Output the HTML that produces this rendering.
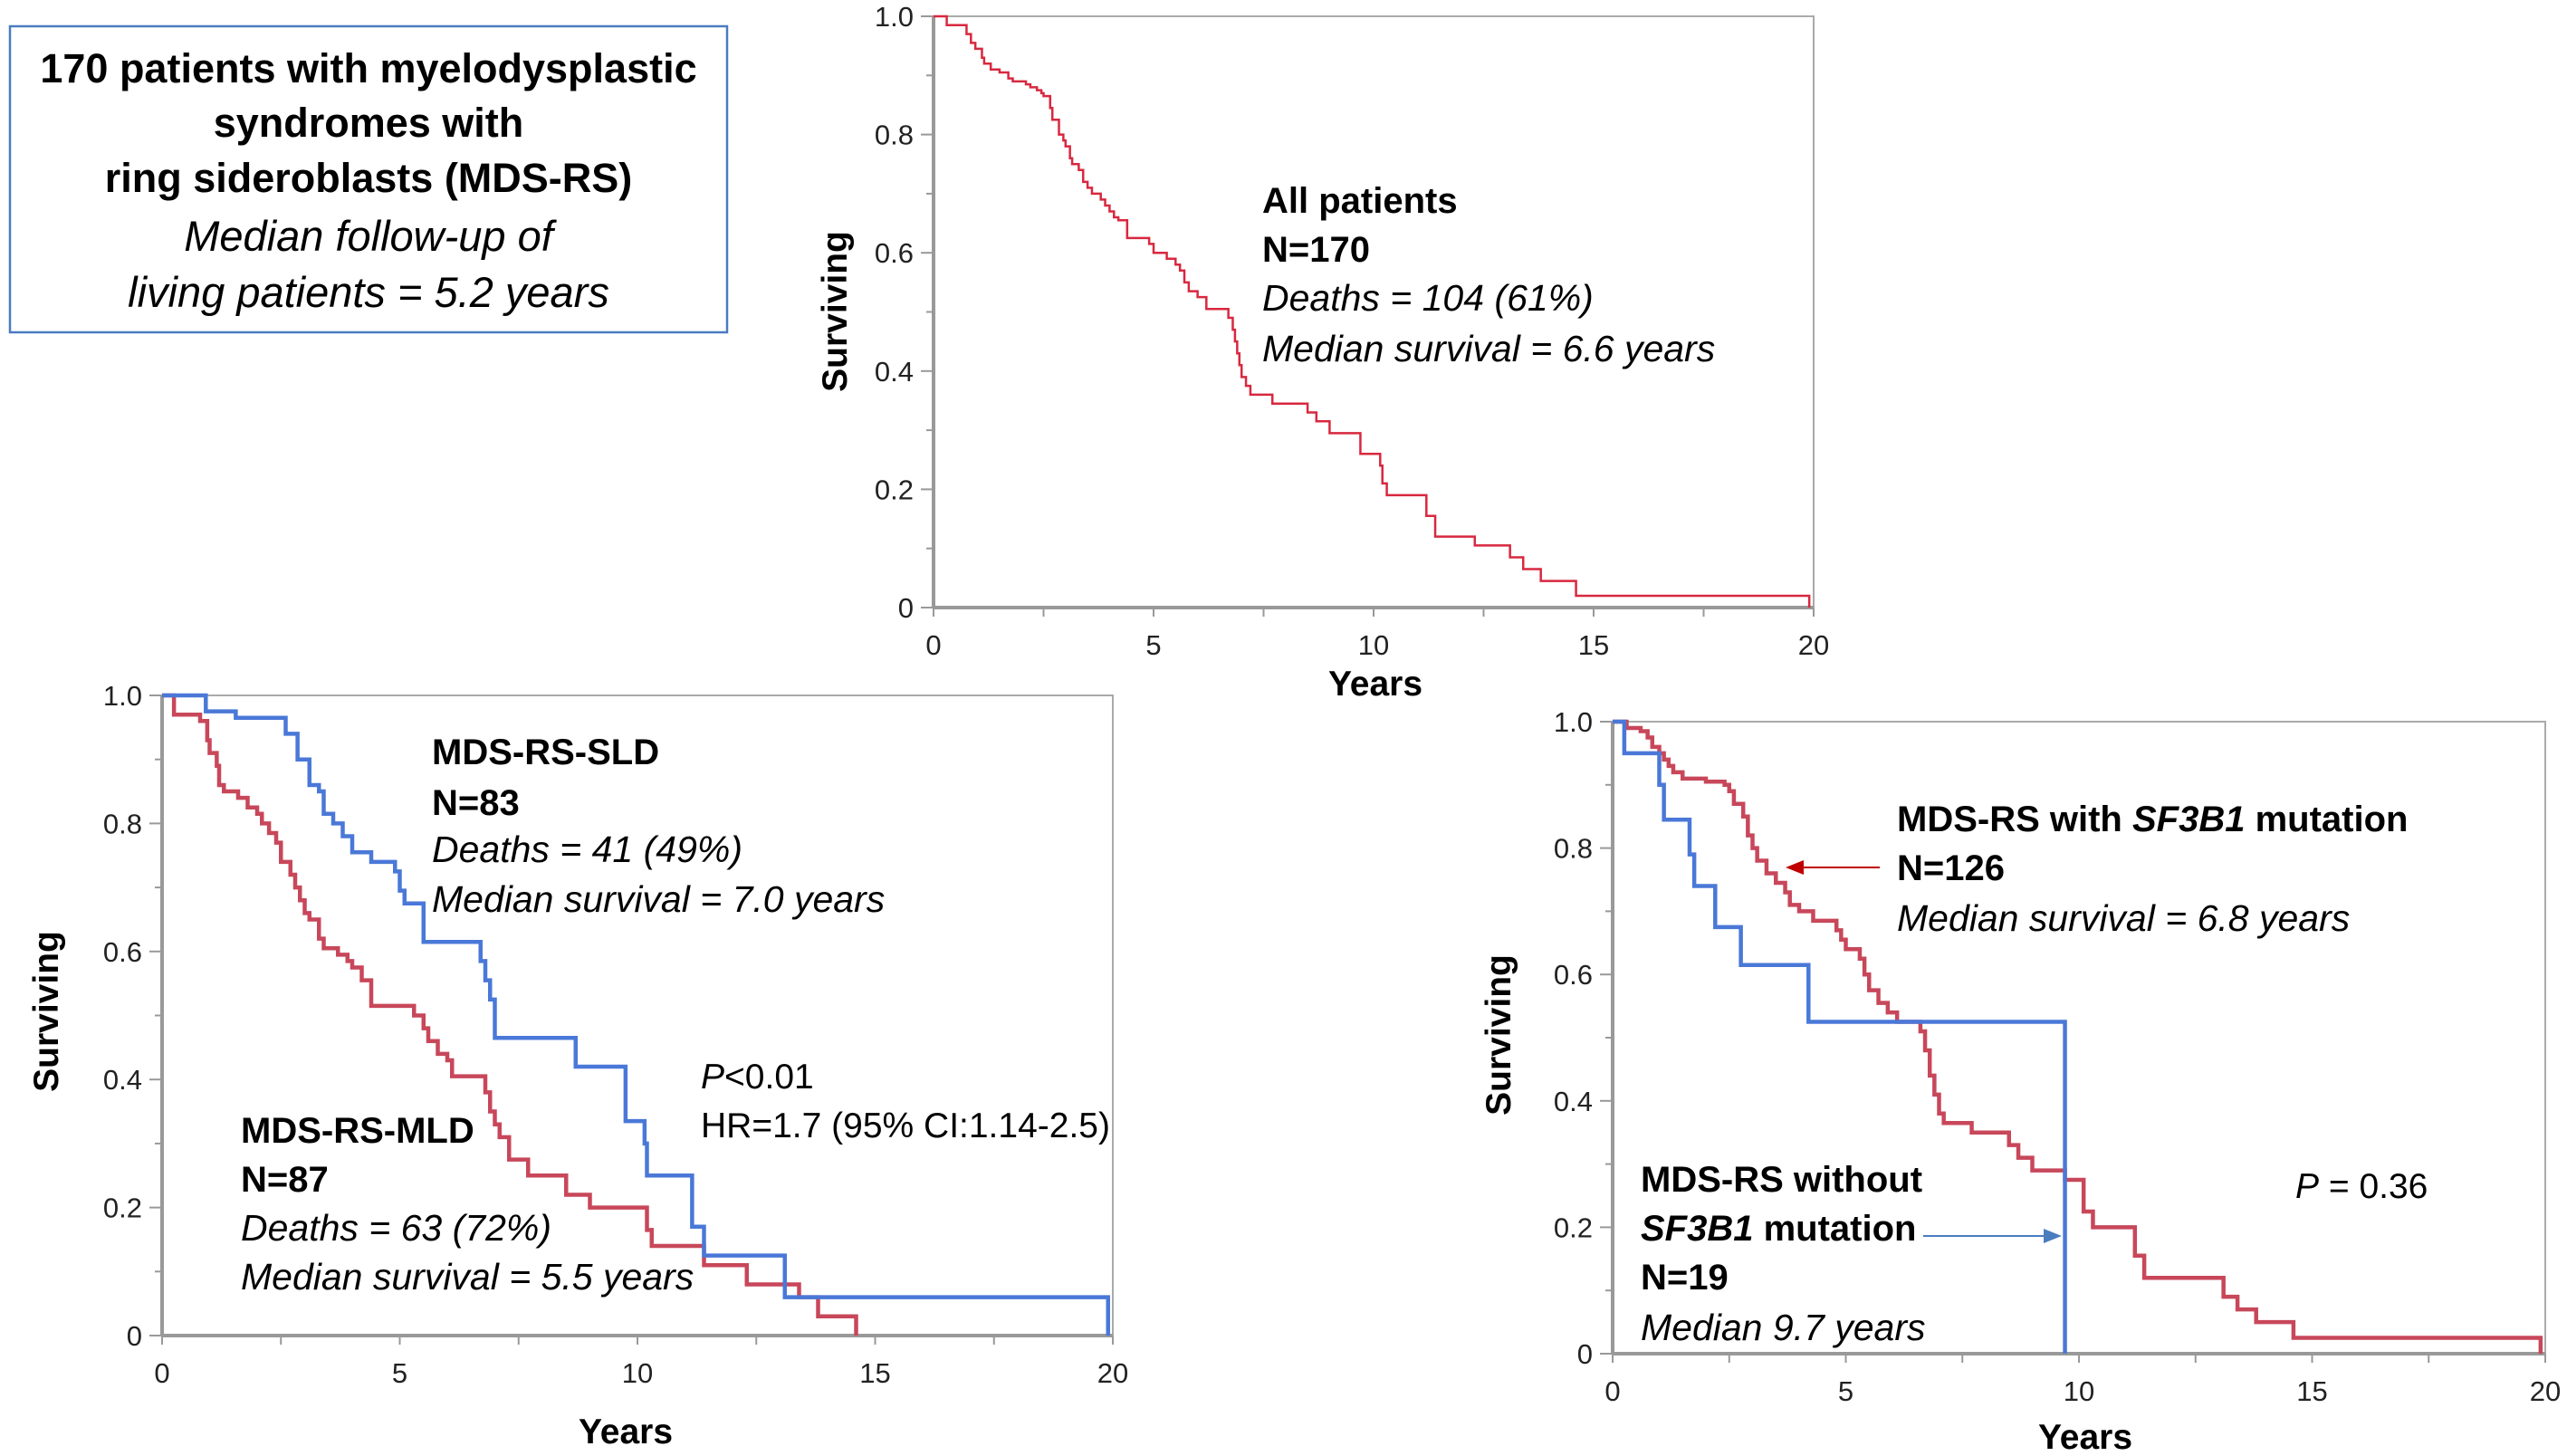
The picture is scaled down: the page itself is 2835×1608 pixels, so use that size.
<!DOCTYPE html>
<html><head><meta charset="utf-8"><style>
html,body{margin:0;padding:0;background:#fff}
svg{display:block}
text{font-family:"Liberation Sans",sans-serif}
.b{font-weight:bold;font-size:40px}
.i{font-style:italic;font-size:41px}
.r{font-size:39px}
</style></head><body>
<svg id="fig" width="2835" height="1608" viewBox="0 0 2835 1608" xmlns="http://www.w3.org/2000/svg">
<rect x="11" y="29" width="792" height="338" fill="#fff" stroke="#4a7cc0" stroke-width="2.5"/>
<g text-anchor="middle">
<text x="407" y="91" font-size="45" font-weight="bold">170 patients with myelodysplastic</text>
<text x="407" y="151" font-size="45" font-weight="bold">syndromes with</text>
<text x="407" y="212" font-size="45" font-weight="bold">ring sideroblasts (MDS-RS)</text>
<text x="407" y="277" font-size="47" font-style="italic">Median follow-up of</text>
<text x="407" y="339" font-size="47" font-style="italic">living patients = 5.2 years</text>
</g>
<g id="charts"></g>
<g>
<text x="1394" y="235" class="b">All patients</text>
<text x="1394" y="289" class="b">N=170</text>
<text x="1394" y="343" class="i">Deaths = 104 (61%)</text>
<text x="1394" y="399" class="i">Median survival = 6.6 years</text>

<text x="477" y="844" class="b">MDS-RS-SLD</text>
<text x="477" y="900" class="b">N=83</text>
<text x="477" y="952" class="i">Deaths = 41 (49%)</text>
<text x="477" y="1007" class="i">Median survival = 7.0 years</text>
<text x="774" y="1202" class="r"><tspan font-style="italic">P</tspan>&lt;0.01</text>
<text x="774" y="1256" class="r">HR=1.7 (95% CI:1.14-2.5)</text>
<text x="266" y="1262" class="b">MDS-RS-MLD</text>
<text x="266" y="1316" class="b">N=87</text>
<text x="266" y="1370" class="i">Deaths = 63 (72%)</text>
<text x="266" y="1424" class="i">Median survival = 5.5 years</text>

<text x="2095" y="918" class="b">MDS-RS with <tspan font-style="italic">SF3B1</tspan> mutation</text>
<text x="2095" y="972" class="b">N=126</text>
<text x="2095" y="1028" class="i">Median survival = 6.8 years</text>
<text x="1812" y="1316" class="b">MDS-RS without</text>
<text x="1812" y="1370" class="b"><tspan font-style="italic">SF3B1</tspan> mutation</text>
<text x="1812" y="1424" class="b">N=19</text>
<text x="1812" y="1480" class="i">Median 9.7 years</text>
<text x="2535" y="1323" class="r"><tspan font-style="italic">P</tspan> = 0.36</text>
</g>
<line x1="2076" y1="958" x2="1990" y2="958" stroke="#c00000" stroke-width="2"/>
<polygon points="1972,958 1992,950 1992,966" fill="#c00000"/>
<line x1="2124" y1="1365" x2="2258" y2="1365" stroke="#4a7cc0" stroke-width="2"/>
<polygon points="2277,1365 2257,1357 2257,1373" fill="#4a7cc0"/>
</svg>
<script>
// ---- data ----
const allT = [0,0.3,0.75,0.85,0.95,1.1,1.15,1.3,1.5,1.7,1.8,2.1,2.2,2.35,2.45,2.5,2.65,2.7,2.85,2.95,3.0,3.1,3.15,3.3,3.4,3.5,3.6,3.8,3.9,4.0,4.1,4.2,4.4,4.9,5.0,5.3,5.5,5.6,5.7,5.8,6.0,6.2,6.7,6.8,6.85,6.9,6.95,7.0,7.1,7.2,7.7,8.5,8.7,9.0,9.7,10.15,10.2,10.3,11.2,11.4,12.3,13.1,13.4,13.8,14.6,19.9];
const allS = [1.0,0.985,0.97,0.955,0.945,0.93,0.92,0.91,0.905,0.895,0.89,0.885,0.88,0.875,0.87,0.865,0.845,0.825,0.8,0.79,0.78,0.76,0.75,0.74,0.72,0.71,0.7,0.69,0.68,0.67,0.66,0.655,0.625,0.615,0.6,0.59,0.58,0.57,0.55,0.535,0.525,0.505,0.49,0.47,0.45,0.43,0.41,0.39,0.375,0.36,0.345,0.33,0.315,0.295,0.26,0.24,0.21,0.19,0.155,0.12,0.105,0.085,0.065,0.045,0.02,0.0];
const sldT = [0,0.92,1.55,2.6,2.85,3.1,3.3,3.4,3.6,3.8,4.0,4.4,4.9,5.0,5.1,5.5,6.7,6.8,6.9,7.0,8.7,9.75,10.15,10.2,11.15,11.4,13.1,19.9];
const sldS = [1.0,0.975,0.965,0.94,0.9,0.86,0.85,0.815,0.8,0.78,0.755,0.74,0.725,0.695,0.675,0.615,0.585,0.555,0.525,0.465,0.42,0.335,0.3,0.25,0.17,0.125,0.06,0.0];
const mldT = [0,0.25,0.8,0.95,1.0,1.15,1.2,1.3,1.6,1.8,2.0,2.1,2.25,2.4,2.5,2.7,2.8,2.9,3.0,3.1,3.3,3.4,3.7,3.9,4.0,4.2,4.4,5.3,5.5,5.6,5.8,6.0,6.1,6.8,6.9,7.0,7.1,7.3,7.7,8.5,9.0,10.2,10.3,11.4,12.3,13.4,13.8,14.6];
const mldS = [1.0,0.97,0.96,0.93,0.91,0.89,0.86,0.85,0.84,0.825,0.815,0.8,0.785,0.77,0.74,0.72,0.7,0.68,0.66,0.65,0.62,0.605,0.595,0.585,0.575,0.555,0.515,0.5,0.48,0.46,0.44,0.43,0.405,0.38,0.35,0.33,0.31,0.275,0.25,0.22,0.2,0.165,0.14,0.11,0.08,0.06,0.03,0.0];
const noT = [0,0.25,1.0,1.1,1.65,1.75,2.2,2.75,4.2,9.7];
const noS = [1.0,0.95,0.9,0.845,0.79,0.74,0.675,0.615,0.525,0.0];
const sfT = [0,0.3,0.6,0.75,0.85,1.0,1.1,1.2,1.3,1.5,2.0,2.4,2.5,2.6,2.8,2.9,3.0,3.1,3.3,3.5,3.7,3.8,4.0,4.3,4.8,4.9,5.0,5.3,5.4,5.5,5.7,5.9,6.1,6.6,6.7,6.8,6.9,7.0,7.1,7.7,8.5,8.7,9.0,9.7,10.1,10.3,11.2,11.4,13.1,13.4,13.8,14.6,19.9];
const sfS = [1.0,0.99,0.985,0.975,0.96,0.95,0.94,0.93,0.92,0.91,0.905,0.9,0.89,0.87,0.85,0.82,0.8,0.78,0.76,0.745,0.73,0.71,0.7,0.685,0.67,0.655,0.64,0.625,0.6,0.575,0.555,0.54,0.525,0.51,0.48,0.44,0.41,0.38,0.365,0.35,0.33,0.31,0.29,0.275,0.225,0.2,0.155,0.12,0.09,0.07,0.05,0.025,0.0];
const xTicks = [0,5,10,15,20];
const yTicks = [0,0.2,0.4,0.6,0.8,1.0];
const yTickLabels = ["0","0.2","0.4","0.6","0.8","1.0"];

const NS = "http://www.w3.org/2000/svg";
const root = document.getElementById('charts');
function mk(tag, attrs, parent){const e=document.createElementNS(NS,tag);for(const k in attrs)e.setAttribute(k,attrs[k]);parent.appendChild(e);return e;}

function chart(name, L, R, T, B, series, years, surv){
  const g = mk('g',{},root);
  
  
  const X = v => L + (R-L)*v/20;
  const Y = v => B - (B-T)*v;
  const frame = mk('polyline',{points:`${L},${B} ${L},${T} ${R},${T} ${R},${B}`,fill:'none',stroke:'#aaa','stroke-width':2},g);
  
  
  const xa = mk('line',{x1:L,y1:B,x2:R,y2:B,stroke:'#999','stroke-width':4},g);
  
  
  const ya = mk('line',{x1:L,y1:T,x2:L,y2:B,stroke:'#999','stroke-width':4},g);
  
  
  for(let v=0; v<=20.001; v+=2.5){
    const t = mk('line',{x1:X(v),y1:B,x2:X(v),y2:B+10,stroke:'#999','stroke-width':2},g);
    
    
  }
  for(let i=0;i<=10;i++){
    const len = i%2===0 ? 14 : 8;
    const t = mk('line',{x1:L-len,y1:Y(i/10),x2:L,y2:Y(i/10),stroke:'#999','stroke-width':2},g);
    
    
  }
  xTicks.forEach(v=>{
    const t = mk('text',{x:X(v),y:B+52,'font-size':31,'text-anchor':'middle',fill:'#222'},g);
    t.textContent = v;
    
    
  });
  yTicks.forEach((v,i)=>{
    const t = mk('text',{x:L-22,y:Y(v)+11,'font-size':31,'text-anchor':'end',fill:'#222'},g);
    t.textContent = yTickLabels[i];
    
    
  });
  const yt = mk('text',{x:0,y:0,'font-size':39,'font-weight':'bold','text-anchor':'middle',transform:`translate(${surv[0]},${surv[1]}) rotate(-90)`},g);
  yt.textContent = 'Surviving';
  
  
  const xt = mk('text',{x:years[0],y:years[1],'font-size':39,'font-weight':'bold','text-anchor':'middle'},g);
  xt.textContent = 'Years';
  
  
  series.forEach(s=>{
    let d = `M${X(s.t[0])},${Y(s.s[0])}`;
    for(let i=1;i<s.t.length;i++){ d += ` H${X(s.t[i])} V${Y(s.s[i])}`; }
    const p = mk('path',{d:d,fill:'none',stroke:s.c,'stroke-width':s.w},g);
    
    
  });
}
chart('all-patients-chart',1031,2003,18,671,[{t:allT,s:allS,c:'#d8283f',w:2.5,n:'all-patients-curve'}],[1519,768],[935,344]);
chart('sld-mld-chart',179,1229,768,1475,[{t:mldT,s:mldS,c:'#c8475a',w:4.5,n:'mld-curve'},{t:sldT,s:sldS,c:'#4a78d8',w:4.5,n:'sld-curve'}],[691,1594],[64,1117]);
chart('sf3b1-chart',1781,2811,797,1495,[{t:sfT,s:sfS,c:'#c8475a',w:4.5,n:'sf3b1-curve'},{t:noT,s:noS,c:'#4a78d8',w:4.5,n:'no-sf3b1-curve'}],[2303,1600],[1668,1143]);
</script>
</body></html>
